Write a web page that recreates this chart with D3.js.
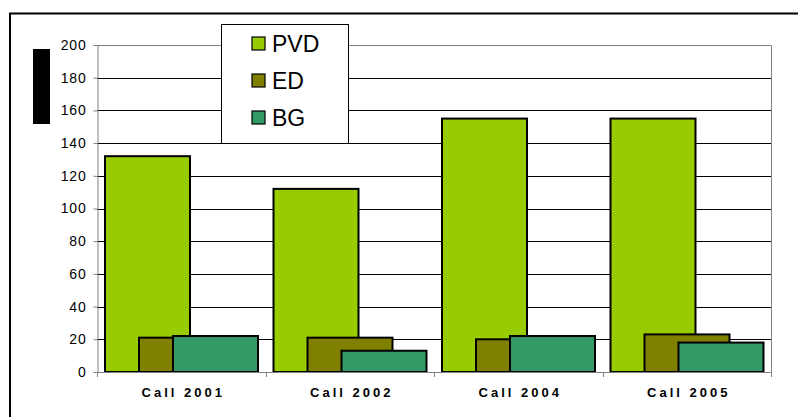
<!DOCTYPE html>
<html>
<head>
<meta charset="utf-8">
<script src="https://cdn.jsdelivr.net/npm/d3@7"></script>
<style>
  body { margin: 0; background: #fff; }
  svg { display: block; font-family: "Liberation Sans", Arial, sans-serif; }
</style>
</head>
<body>
<div class="canvas"></div>
<script>
// data
const categories = ['Call 2001', 'Call 2002', 'Call 2004', 'Call 2005'];
const seriesNames = ['PVD', 'ED', 'BG'];
const pvd = [132, 112, 155, 155];
const ed = [21, 21, 20, 23];
const bg = [22, 13, 22, 18];
const yTicks = [0, 20, 40, 60, 80, 100, 120, 140, 160, 180, 200];
const colors = ['#99cc00', '#808000', '#339966'];

const svg = d3.select('.canvas')
	.append('svg')
	.attr('width', 798)
	.attr('height', 417);

// outer frame (only top and left visible)
svg.append('path')
	.attr('d', 'M10,417 V13.5 H798')
	.attr('fill', 'none')
	.attr('stroke', '#000')
	.attr('stroke-width', 2);

// black block on the left
svg.append('rect')
	.attr('x', 33).attr('y', 49)
	.attr('width', 17).attr('height', 75)
	.attr('fill', '#000');

const plot = {left: 97, right: 771, top: 45, bottom: 372};

const x = d3.scaleBand()
	.domain(categories)
	.range([plot.left, plot.right]);

const y = d3.scaleLinear()
	.domain([0, 200])
	.range([plot.bottom, plot.top]);

// offset of each series inside a category (bars overlap)
const sx = d3.scalePoint()
	.domain(seriesNames)
	.range([8, 76]);
const barWidth = 85;

// gridlines
svg.append('g')
	.selectAll('line')
	.data(yTicks.filter(d => d > 0 && d < 200))
	.enter()
	.append('line')
	.attr('x1', plot.left)
	.attr('x2', plot.right)
	.attr('y1', d => Math.round(y(d)) + 0.5)
	.attr('y2', d => Math.round(y(d)) + 0.5)
	.attr('stroke', '#000')
	.attr('stroke-width', 1);

// plot border top/right
svg.append('path')
	.attr('d', `M${plot.left},${plot.top + 0.5} H${plot.right + 0.5} V${plot.bottom}`)
	.attr('fill', 'none')
	.attr('stroke', '#808080')
	.attr('stroke-width', 1);

// bars, one series after the other
const seriesValues = [pvd, ed, bg];
seriesValues.forEach((vals, i) => {
	svg.append('g')
		.selectAll('rect')
		.data(vals)
		.enter()
		.append('rect')
		.attr('x', (d, j) => x(categories[j]) + sx(seriesNames[i]))
		.attr('y', d => y(d))
		.attr('width', barWidth)
		.attr('height', d => plot.bottom - y(d))
		.attr('fill', colors[i])
		.attr('stroke', '#000')
		.attr('stroke-width', 2);
});

// y axis
const yAxis = d3.axisLeft(y)
	.tickValues(yTicks)
	.tickSize(4)
	.tickPadding(7);

const yAxisGroup = svg.append('g')
	.attr('transform', `translate(${plot.left + 0.5},0)`)
	.call(yAxis);

yAxisGroup.select('.domain').attr('stroke', '#808080');
yAxisGroup.selectAll('.tick line').attr('stroke', '#808080');
yAxisGroup.selectAll('text')
	.attr('font-size', 14)
	.attr('font-family', '"Liberation Sans", Arial, sans-serif')
	.attr('letter-spacing', 0.8)
	.attr('fill', '#000');

// x axis: ticks at category boundaries
const xAxisGroup = svg.append('g');
xAxisGroup.append('line')
	.attr('x1', plot.left)
	.attr('x2', plot.right + 1)
	.attr('y1', plot.bottom + 0.5)
	.attr('y2', plot.bottom + 0.5)
	.attr('stroke', '#808080');

const bounds = categories.map(c => x(c)).concat([plot.right]);
xAxisGroup.selectAll('.xtick')
	.data(bounds)
	.enter()
	.append('line')
	.attr('x1', d => Math.round(d) + 0.5)
	.attr('x2', d => Math.round(d) + 0.5)
	.attr('y1', plot.bottom)
	.attr('y2', plot.bottom + 5)
	.attr('stroke', '#808080');

xAxisGroup.selectAll('.xlabel')
	.data(categories)
	.enter()
	.append('text')
	.attr('x', d => x(d) + x.bandwidth() / 2 + 2)
	.attr('y', 397)
	.attr('text-anchor', 'middle')
	.attr('font-size', 13)
	.attr('font-weight', 'bold')
	.attr('letter-spacing', 3)
	.text(d => d);

// legend
const legend = svg.append('g');
legend.append('rect')
	.attr('x', 221.5).attr('y', 24.5)
	.attr('width', 127).attr('height', 119)
	.attr('fill', '#fff')
	.attr('stroke', '#000')
	.attr('stroke-width', 1);

const legendY = d3.scalePoint()
	.domain(seriesNames)
	.range([44, 118]);

const items = legend.selectAll('.item')
	.data(seriesNames)
	.enter()
	.append('g');

items.append('rect')
	.attr('x', 252)
	.attr('y', d => legendY(d) - 7)
	.attr('width', 13)
	.attr('height', 13)
	.attr('fill', (d, i) => colors[i])
	.attr('stroke', '#000')
	.attr('stroke-width', 1.2);

items.append('text')
	.attr('x', 272)
	.attr('y', d => legendY(d))
	.attr('dy', '0.36em')
	.attr('font-size', 23)
	.text(d => d);
</script>
</body>
</html>
